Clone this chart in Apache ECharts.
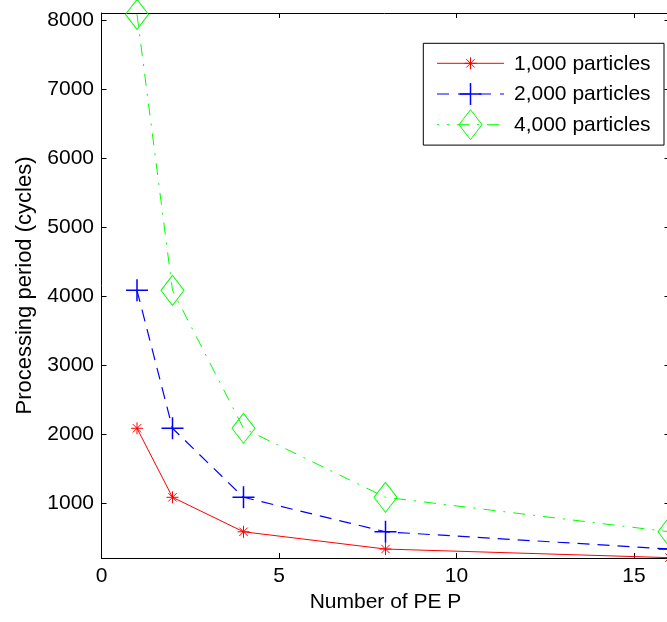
<!DOCTYPE html>
<html>
<head>
<meta charset="utf-8">
<script src="https://cdn.jsdelivr.net/npm/echarts@6/dist/echarts.min.js"></script>
<style>
html,body{margin:0;padding:0;background:#fff;}
#chart{width:667px;height:622px;}
</style>
</head>
<body>
<div id="chart"></div>
<script>
// ---- data ----
const peCounts = [1, 2, 4, 8, 16];
const cycles1000 = [2080, 1080, 580, 330, 205];
const cycles2000 = [4080, 2080, 1080, 580, 330];
const cycles4000 = [8080, 4080, 2080, 1080, 580];
const seriesNames = ['1,000 particles', '2,000 particles', '4,000 particles'];
const xTicks = [0, 5, 10, 15];
const yTicks = [1000, 2000, 3000, 4000, 5000, 6000, 7000, 8000];

const FONT = 'Liberation Sans, Arial, Helvetica, sans-serif';
const RED = '#ff0000', BLUE = '#0000ff', GREEN = '#00ff00';
const ASTER = 'path://M6,0L6,12M0,6L12,6M1.8,1.8L10.2,10.2M1.8,10.2L10.2,1.8';
const PLUS = 'path://M11,0L11,22M0,11L22,11';
const DIAM = 'path://M11.5,0L23,15L11.5,30L0,15Z';
const blueDash = [12, 8];
const greenDashDot = [12, 8, 2, 8];

function pairs(ys) { return peCounts.map((x, i) => [x, ys[i]]); }

const chart = echarts.init(document.getElementById('chart'), null, {renderer: 'canvas'});

const axisCommon = {
  axisLine: {show: true, onZero: false, lineStyle: {color: '#000', width: 1}},
  splitLine: {show: false}
};

function seg(x1, y1, x2, y2, stroke, w, dash, off) {
  const st = {stroke: stroke, lineWidth: w};
  if (dash) { st.lineDash = dash; st.lineDashOffset = off || 0; }
  return {type: 'line', shape: {x1: x1, y1: y1, x2: x2, y2: y2}, style: st, z: 100};
}

// legend sample drawings (line + marker) next to legend text
const rows = [63.3, 94, 124.7];
const lx1 = 437, lx2 = 504, lmx = 470.5;
const legendGraphics = [
  seg(lx1, rows[0], lx2, rows[0], RED, 1),
  seg(lmx, rows[0] - 6, lmx, rows[0] + 6, RED, 1),
  seg(lmx - 6, rows[0], lmx + 6, rows[0], RED, 1),
  seg(lmx - 4.2, rows[0] - 4.2, lmx + 4.2, rows[0] + 4.2, RED, 1),
  seg(lmx - 4.2, rows[0] + 4.2, lmx + 4.2, rows[0] - 4.2, RED, 1),
  seg(lx1, rows[1], lx2, rows[1], BLUE, 1.2, [12, 9], 0),
  seg(lmx, rows[1] - 11, lmx, rows[1] + 11, BLUE, 1.5),
  seg(lmx - 11, rows[1], lmx + 11, rows[1], BLUE, 1.5),
  seg(lx1, rows[2], lx2, rows[2], GREEN, 1, greenDashDot, 10),
  {type: 'polygon', shape: {points: [[lmx, rows[2] - 15], [lmx + 11.5, rows[2]], [lmx, rows[2] + 15], [lmx - 11.5, rows[2]]]}, style: {stroke: GREEN, fill: null, lineWidth: 1}, z: 100}
];

const option = {
  animation: false,
  backgroundColor: '#fff',
  textStyle: {fontFamily: FONT},
  grid: {left: 101.5, top: 13, right: -2.5, bottom: 64, containLabel: false, outerBoundsMode: 'none'},
  legend: {
    show: true,
    orient: 'vertical',
    left: 423.3,
    top: 43.3,
    padding: [9.5, 9, 8.5, 13.7],
    itemWidth: 71,
    itemHeight: 20,
    itemGap: 8.9,
    backgroundColor: '#fff',
    borderColor: '#000',
    borderWidth: 1,
    icon: 'rect',
    itemStyle: {opacity: 0},
    lineStyle: {opacity: 0},
    selectedMode: false,
    textStyle: {fontFamily: FONT, fontSize: 21, color: '#000', width: 141, lineHeight: 20},
    data: seriesNames,
    z: 50
  },
  xAxis: [
    Object.assign({}, axisCommon, {
      type: 'value', position: 'bottom', min: 0, max: 16,
      axisTick: {show: true, inside: true, length: 5, lineStyle: {color: '#000'}, customValues: xTicks},
      axisLabel: {show: true, margin: 8, color: '#000', fontSize: 21, fontFamily: FONT, customValues: xTicks,
        formatter: function (v) { return String(v); }},
      name: 'Number of PE P', nameLocation: 'middle', nameGap: 34,
      nameTextStyle: {fontSize: 21, color: '#000', fontFamily: FONT}
    }),
    Object.assign({}, axisCommon, {
      type: 'value', position: 'top', min: 0, max: 16,
      axisTick: {show: true, inside: true, length: 5, lineStyle: {color: '#000'}, customValues: xTicks},
      axisLabel: {show: false}
    })
  ],
  yAxis: [
    Object.assign({}, axisCommon, {
      type: 'value', position: 'left', min: 200, max: 8100,
      axisTick: {show: true, inside: true, length: 5, lineStyle: {color: '#000'}, customValues: yTicks},
      axisLabel: {show: true, margin: 7.5, color: '#000', fontSize: 21, fontFamily: FONT, customValues: yTicks,
        formatter: function (v) { return String(v); }},
      name: 'Processing period (cycles)', nameLocation: 'middle', nameGap: 66, nameRotate: 90,
      nameTextStyle: {fontSize: 22, color: '#000', fontFamily: FONT}
    }),
    Object.assign({}, axisCommon, {
      type: 'value', position: 'right', min: 200, max: 8100,
      axisTick: {show: true, inside: true, length: 5, lineStyle: {color: '#000'}, customValues: yTicks},
      axisLabel: {show: false}
    })
  ],
  series: [
    {
      name: seriesNames[0], type: 'line', xAxisIndex: 0, yAxisIndex: 0, data: pairs(cycles1000),
      clip: false, symbol: ASTER, symbolSize: 12,
      lineStyle: {color: RED, width: 1, type: 'solid'},
      itemStyle: {color: 'rgba(0,0,0,0)', borderColor: RED, borderWidth: 1},
      z: 3
    },
    {
      name: seriesNames[1], type: 'line', xAxisIndex: 0, yAxisIndex: 0, data: pairs(cycles2000),
      clip: false, symbol: PLUS, symbolSize: 22,
      lineStyle: {color: BLUE, width: 1.2, type: blueDash},
      itemStyle: {color: 'rgba(0,0,0,0)', borderColor: BLUE, borderWidth: 1.5},
      z: 3
    },
    {
      name: seriesNames[2], type: 'line', xAxisIndex: 0, yAxisIndex: 0, data: pairs(cycles4000),
      clip: false, symbol: DIAM, symbolSize: [23, 30],
      lineStyle: {color: GREEN, width: 1, type: greenDashDot},
      itemStyle: {color: 'rgba(0,0,0,0)', borderColor: GREEN, borderWidth: 1},
      z: 3
    }
  ],
  graphic: legendGraphics
};
chart.setOption(option);
</script>
</body>
</html>
